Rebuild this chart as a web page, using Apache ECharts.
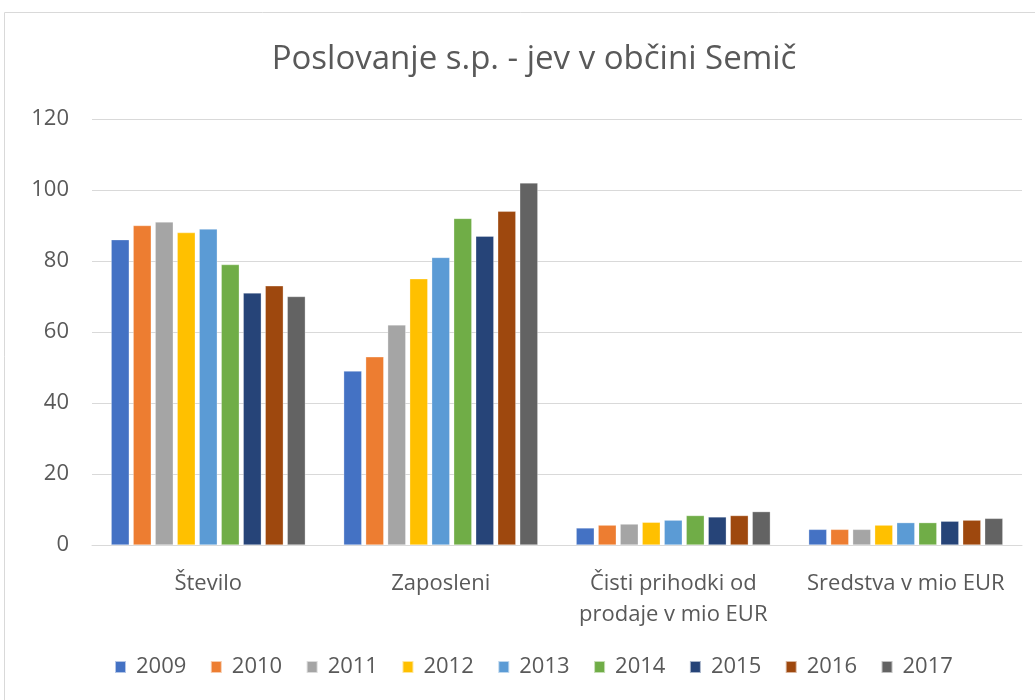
<!DOCTYPE html>
<html>
<head>
<meta charset="utf-8">
<script src="https://cdn.jsdelivr.net/npm/echarts@6/dist/echarts.min.js"></script>
<style>
  html, body { margin: 0; padding: 0; background: #fff; }
  #chart { width: 1035px; height: 700px; }
</style>
</head>
<body>
<div id="chart"></div>
<script>
const categories = ['Število', 'Zaposleni', 'Čisti prihodki od\nprodaje v mio EUR', 'Sredstva v mio EUR']
const years = ['2009', '2010', '2011', '2012', '2013', '2014', '2015', '2016', '2017']
// one array per year: [Število, Zaposleni, Čisti prihodki, Sredstva]
const v2009 = [86, 49, 4.8, 4.4]
const v2010 = [90, 53, 5.6, 4.4]
const v2011 = [91, 62, 5.9, 4.4]
const v2012 = [88, 75, 6.4, 5.6]
const v2013 = [89, 81, 7.0, 6.3]
const v2014 = [79, 92, 8.3, 6.3]
const v2015 = [71, 87, 7.9, 6.7]
const v2016 = [73, 94, 8.3, 7.0]
const v2017 = [70, 102, 9.4, 7.5]
const yTicks = [0, 20, 40, 60, 80, 100, 120]

const values = [v2009, v2010, v2011, v2012, v2013, v2014, v2015, v2016, v2017]
const colors = ['#4472C4', '#ED7D31', '#A5A5A5', '#FFC000', '#5B9BD5', '#70AD47', '#264478', '#9E480E', '#636363']
const font = '"Open Sans", sans-serif'

const chart = echarts.init(document.getElementById('chart'))
chart.setOption({
  animation: false,
  color: colors,
  textStyle: { fontFamily: font },
  title: {
    text: 'Poslovanje s.p. - jev v občini Semič',
    left: 529,
    textAlign: 'center',
    top: 38,
    textStyle: { fontFamily: font, fontSize: 33, fontWeight: 'normal', color: '#595959' }
  },
  graphic: [{
    type: 'rect',
    shape: { x: 4.5, y: 12.5, width: 1100, height: 800 },
    style: { fill: 'none', stroke: '#d9d9d9', lineWidth: 1 },
    silent: true
  }],
  legend: {
    top: 651,
    left: 109,
    itemWidth: 11,
    itemHeight: 12,
    itemGap: 23.5,
    icon: 'rect',
    textStyle: { fontFamily: font, fontSize: 22, color: '#595959', padding: [0, 0, 0, 5] },
    data: years
  },
  grid: { left: 92, right: 13, top: 119, bottom: 155 },
  xAxis: {
    type: 'category',
    data: categories,
    axisLine: { lineStyle: { color: '#d9d9d9', width: 1 } },
    axisTick: { show: false },
    axisLabel: { fontFamily: font, fontSize: 22, color: '#595959', lineHeight: 31, margin: 23, interval: 0 }
  },
  yAxis: {
    type: 'value',
    min: yTicks[0],
    max: yTicks[yTicks.length - 1],
    interval: 20,
    axisLine: { show: false },
    axisTick: { show: false },
    axisLabel: { fontFamily: font, fontSize: 22, color: '#595959', margin: 23 },
    splitLine: { lineStyle: { color: '#d9d9d9', width: 1 } }
  },
  series: years.map((y, i) => ({
    name: y,
    type: 'bar',
    data: values[i],
    barGap: '22%',
    barCategoryGap: '16.5%',
    itemStyle: { borderColor: 'rgba(255,255,255,0.6)', borderWidth: 0.5 }
  }))
})
</script>
</body>
</html>
